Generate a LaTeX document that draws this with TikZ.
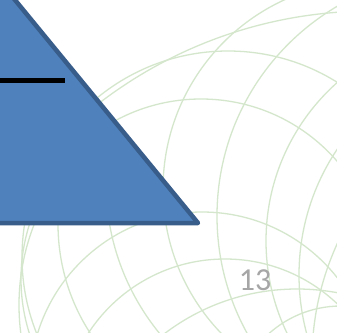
\documentclass[tikz,border=0pt]{standalone}
\usepackage{fontspec}
\setmainfont{Carlito}
\definecolor{gridgreen}{RGB}{212,231,204}
\definecolor{triblue}{RGB}{79,129,189}
\definecolor{triedge}{RGB}{56,93,138}
\definecolor{numgray}{RGB}{166,166,166}
\begin{document}
\begin{tikzpicture}[x=1pt,y=-1pt,
  arc/.style={draw=gridgreen, line width=1.3pt},
  tri/.style={fill=triblue, draw=triedge, line width=4.5pt, line join=round}]
\useasboundingbox (0,0) rectangle (337,332);
\clip (0,0) rectangle (337,332);
\fill[white] (0,0) rectangle (337,332);
% first family of arcs
\draw[arc] (371,458) circle[radius=447pt];
\draw[arc] (228,257) circle[radius=206pt];
\draw[arc] (201,279) circle[radius=180pt];
\draw[arc] (202,384) circle[radius=172pt];
\draw[arc] (225,422) circle[radius=163pt];
\draw[arc] (297,508) circle[radius=219pt];
\draw[arc] (341,414) circle[radius=108pt];
% second family of arcs
\draw[arc] (371,189) circle[radius=208pt];
\draw[arc] (460,216) circle[radius=243pt];
\draw[arc] (478,241) circle[radius=212pt];
\draw[arc] (525,275) circle[radius=226pt];
\draw[arc] (592,360) circle[radius=280pt];
\begin{scope}
  \clip (0,150) rectangle (337,332);
  \draw[arc] (344,183) circle[radius=238pt];
\end{scope}
\begin{scope}
  \clip (0,200) rectangle (337,332);
  \draw[arc] (259,224) circle[radius=201pt];
  \draw[arc] (240,305) circle[radius=221pt];
\end{scope}
% triangle
\draw[tri] (-67,-100) -- (198,223) -- (-300,223) -- cycle;
% black bar
\draw[line width=4.5pt, black] (-5,80.5) -- (65,80.5);
% page number
\node[text=numgray, font=\fontsize{32}{38}\selectfont, inner sep=0pt] (pagenum) at (255,280) {13};
\end{tikzpicture}
\end{document}
